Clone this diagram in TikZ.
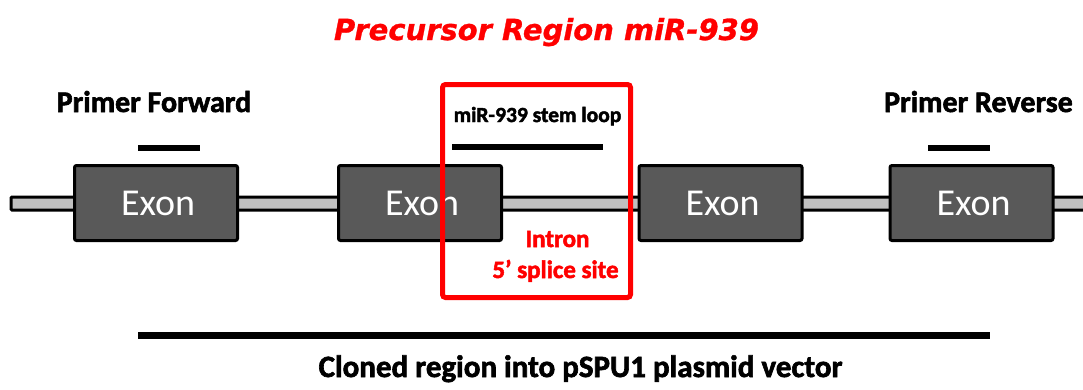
\documentclass[tikz,border=0pt]{standalone}
\usepackage{fontspec}
\setmainfont{Carlito}
\newfontfamily\titlefont[FakeBold=1]{DejaVu Sans Bold Oblique}
\newfontfamily\heavyfont[FakeBold=2]{Carlito Bold}
\definecolor{exonfill}{HTML}{595959}
\definecolor{backbonefill}{HTML}{C0C0C0}
\definecolor{redline}{HTML}{FF0000}
\begin{document}
\begin{tikzpicture}[x=1pt,y=-1pt,
  exonbox/.style={draw=black, line width=3pt, fill=exonfill, rounded corners=2pt,
    minimum width=163pt, minimum height=75pt, inner sep=0pt,
    text=white, font=\fontsize{38}{38}\selectfont},
  barline/.style={line width=6pt},
  labeltext/.style={anchor=base, inner sep=0pt, font=\heavyfont\fontsize{30}{30}\selectfont},
  redtext/.style={anchor=base, inner sep=0pt, text=redline, font=\heavyfont\fontsize{25}{25}\selectfont}]
\useasboundingbox (0,0) rectangle (1083,389);
% backbone
\coordinate (bbL) at (11,203.5);
\coordinate (bbR) at (1090,203.5);
\draw[line width=3pt, fill=backbonefill, rounded corners=1pt] (11,197) rectangle (1090,210);
% exons
\node[exonbox] (ex1) at (156,203) {\hspace*{4pt}Exon};
\node[exonbox] (ex2) at (420,203) {\hspace*{4pt}Exon};
\node[exonbox] (ex3) at (720.5,203) {\hspace*{4pt}Exon};
\node[exonbox] (ex4) at (971.5,203) {\hspace*{4pt}Exon};
% red box
\node[draw=redline, line width=5pt, rounded corners=3pt, minimum width=188pt, minimum height=213pt, inner sep=0pt] (redbox) at (536.5,191) {};
% title
\node[anchor=base, inner sep=0pt, text=redline, font=\titlefont\fontsize{29}{29}\selectfont] (title) at (546.5,40) {Precursor Region miR-939};
% primer labels
\node[labeltext] (pf) at (154,112) {Primer Forward};
\node[labeltext] (pr) at (978.5,112) {Primer Reverse};
\coordinate (pfA) at (138,148);
\coordinate (pfB) at (200,148);
\draw[barline] (pfA) -- (pfB);
\coordinate (prA) at (928,148);
\coordinate (prB) at (990,148);
\draw[barline] (prA) -- (prB);
% stem loop
\node[anchor=base, inner sep=0pt, font=\heavyfont\fontsize{21.5}{21.5}\selectfont] (stem) at (537.5,122) {miR-939 stem loop};
\coordinate (slA) at (452,147);
\coordinate (slB) at (603,147);
\draw[barline] (slA) -- (slB);
% intron labels
\node[redtext] (intron) at (557.5,247) {Intron};
\node[redtext] (splice) at (555.5,278) {5’ splice site};
% cloned region
\coordinate (crA) at (138,335.5);
\coordinate (crB) at (990,335.5);
\draw[line width=7pt] (crA) -- (crB);
\node[labeltext, font=\heavyfont\fontsize{31}{31}\selectfont] (cloned) at (580.5,377) {Cloned region into pSPU1 plasmid vector};
\end{tikzpicture}
\end{document}
